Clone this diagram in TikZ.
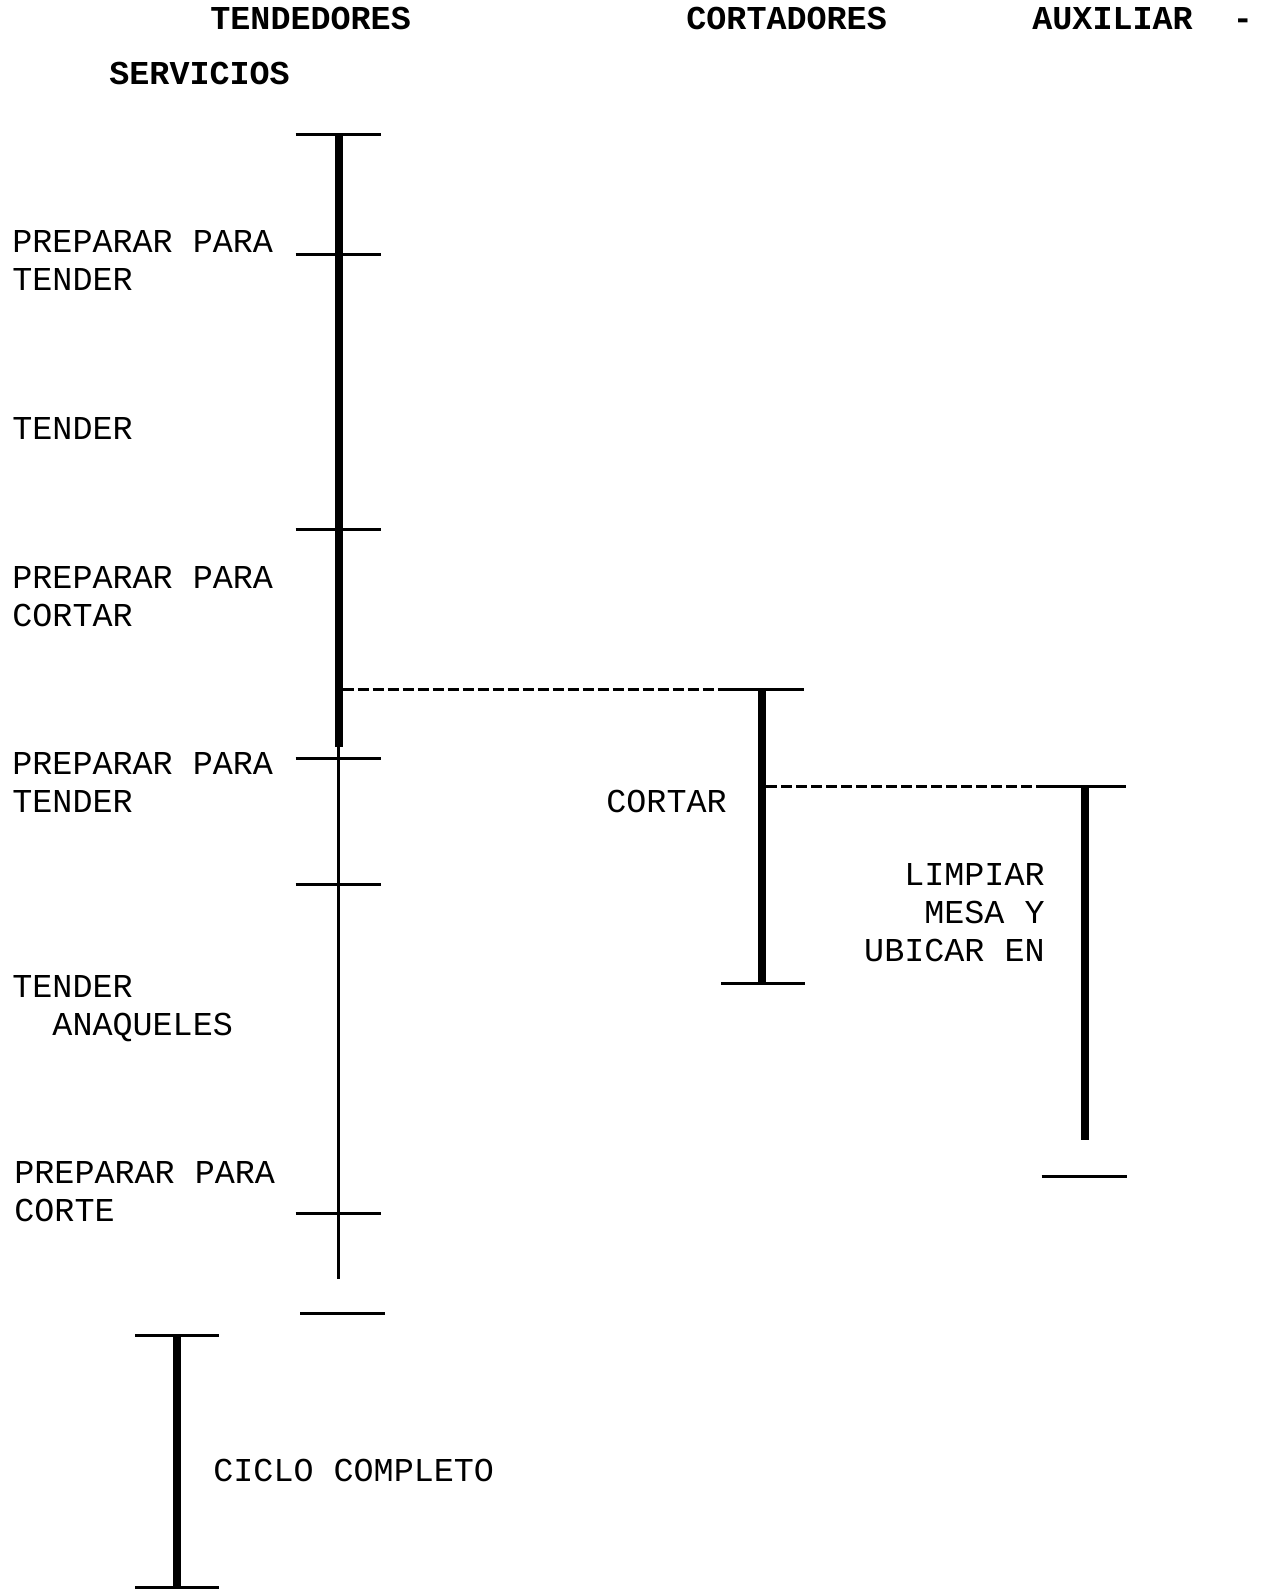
\documentclass[tikz,border=0pt]{standalone}
\usepackage{fontspec}
\setmonofont{Liberation Mono}
\usepackage{tikz}
\usetikzlibrary{positioning}
\newcommand{\actfont}{\ttfamily\fontsize{16.7}{18.9}\selectfont}
\tikzset{
  heavybar/.style={line width=4pt},
  lightbar/.style={line width=1.5pt},
  crossbar/.style={line width=1.5pt},
  waitlink/.style={line width=1.5pt,dashed,dash pattern=on 5.5pt off 2pt},
  actlbl/.style={inner sep=0pt,anchor=base west,align=left},
  headlbl/.style={inner sep=0pt,anchor=base west,font=\actfont\bfseries}
}

\begin{document}
\begin{tikzpicture}[x=0.5pt,y=-0.5pt,font=\actfont]
  \useasboundingbox (0,0) rectangle (1266,1589);
  % ---- column heads ----
  \node[headlbl] (hten) at (210,30) {TENDEDORES};
  \node[headlbl] (hcor) at (686,30) {CORTADORES};
  \node[headlbl] (haux) at (1032,30) {AUXILIAR~~-};
  \node[headlbl] (hser) at (109,85) {SERVICIOS};
  % ---- tendedores: one column with the steps ----
  \coordinate (t0) at (338.5,134.8);
  \coordinate (t1) at (338.5,254.4);
  \coordinate (t2) at (338.5,529.1);
  \coordinate (tw) at (338.5,689.2);
  \coordinate (t3) at (338.5,747);
  \coordinate (t4) at (338.5,758.2);
  \coordinate (t5) at (338.5,884.9);
  \coordinate (t6) at (338.5,1213.3);
  \coordinate (t7) at (338.5,1279.2);
  \coordinate (t8) at (343,1313.6);
  \draw[heavybar] (t0) -- (t3);
  \draw[lightbar] (t3) -- (t7);
  \foreach \p in {t0,t1,t2,t4,t5,t6,t8}
    \draw[crossbar] ([shift={(-43,0)}]\p) -- ([shift={(42,0)}]\p);
  % labels sit on their last line
  \node[actlbl] (a1) at (12,290.5) {PREPARAR PARA\\TENDER};
  \node[actlbl] (a2) at (12,439.5) {TENDER};
  \node[actlbl] (a3) at (12,626) {PREPARAR PARA\\CORTAR};
  \node[actlbl] (a4) at (12,812.5) {PREPARAR PARA\\TENDER};
  \node[actlbl] (a5) at (12,1035.5) {TENDER\\~~ANAQUELES};
  \node[actlbl] (a6) at (14,1221) {PREPARAR PARA\\CORTE};
  % ---- cortadores ----
  \coordinate (c0) at (762,689.2);
  \coordinate (c1) at (762,983.2);
  \draw[heavybar] (c0) -- (c1);
  \draw[crossbar] ([shift={(-42,0)}]c0) coordinate (c0l) -- ([shift={(42,0)}]c0);
  \draw[crossbar] ([shift={(-41,0)}]c1) -- ([shift={(43,0)}]c1);
  \draw[waitlink] ([shift={(4,0)}]tw) -- (c0l);
  \node[actlbl] (b1) at (606,812) {CORTAR};
  % ---- auxiliar - servicios ----
  \coordinate (s0) at (1084.6,786.6);
  \coordinate (s1) at (1084.6,1140.3);
  \coordinate (s2) at (1084.6,1176.8);
  \draw[heavybar] (s0) -- (s1);
  \draw[crossbar] ([shift={(-41,0)}]s0) coordinate (s0l) -- ([shift={(41,0)}]s0);
  \draw[crossbar] ([shift={(-43,0)}]s2) -- ([shift={(42,0)}]s2);
  \draw[waitlink] ([shift={(4,0)}]c0 |- s0) -- (s0l);
  \node[actlbl,anchor=base east,align=right] (d1) at (1045,961) {LIMPIAR\\MESA Y\\UBICAR EN};
  % ---- key ----
  \coordinate (k0) at (177.4,1335.9);
  \coordinate (k1) at (177.4,1587.3);
  \draw[heavybar] (k0) -- (k1);
  \draw[crossbar] ([shift={(-42,0)}]k0) -- ([shift={(42,0)}]k0);
  \draw[crossbar] ([shift={(-42,0)}]k1) -- ([shift={(42,0)}]k1);
  \node[actlbl] (k2) at (213,1481) {CICLO COMPLETO};
\end{tikzpicture}
\end{document}
